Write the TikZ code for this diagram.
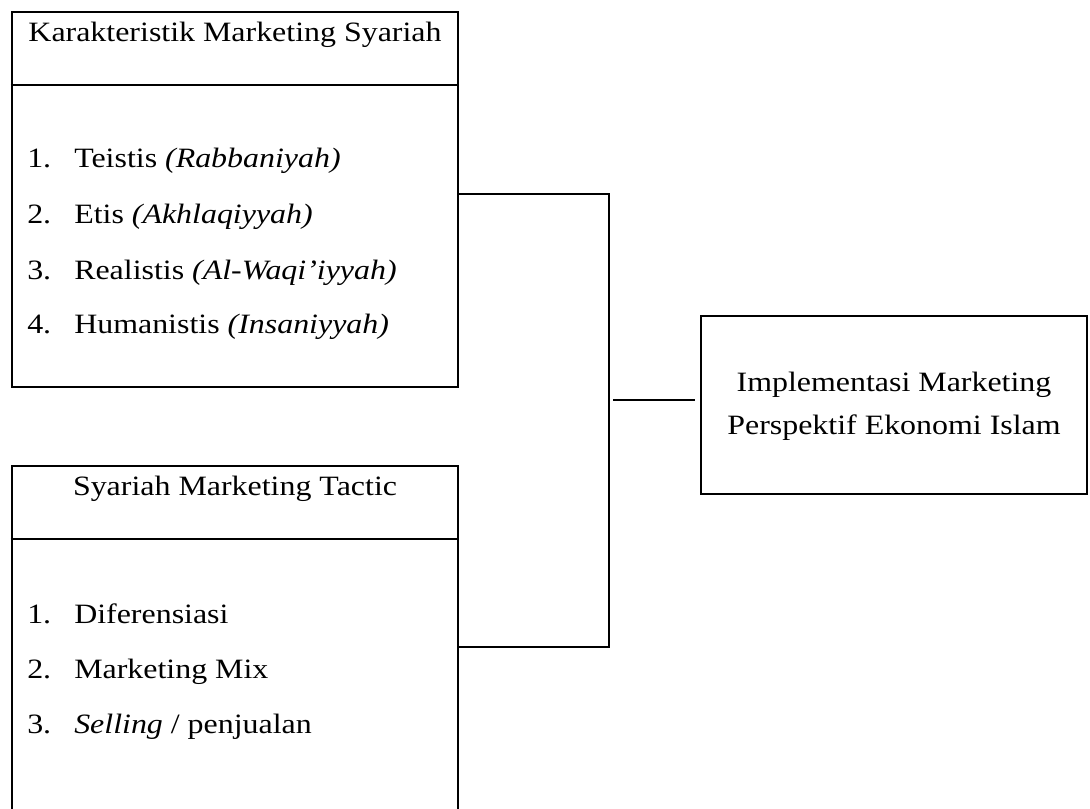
\documentclass[tikz,border=0pt]{standalone}
\usepackage{fontspec}
\setmainfont{Liberation Serif}[FakeStretch=1.14]
\begin{document}
\begin{tikzpicture}[x=0.75pt,y=-0.75pt,
  conn/.style={line width=1.9pt},
  box/.style={draw,line width=1.9pt,inner sep=0pt,rectangle},
  txt/.style={font=\fontsize{21}{25}\selectfont,inner sep=0pt},
  item/.style={txt,anchor=base west},
  ttl/.style={txt,anchor=base}]
\useasboundingbox (0,0) rectangle (1090,809);
% boxes
\node[box,minimum width=334.5pt,minimum height=281.25pt] (kbox) at (235,199.5) {};
\node[box,minimum width=334.5pt,minimum height=262.5pt] (sbox) at (235,641) {};
\node[box,minimum width=289.5pt,minimum height=133.5pt] (ibox) at (894,405) {};
% dividers
\draw[conn] (kbox.west |- 0,85) -- (kbox.east |- 0,85);
\draw[conn] (sbox.west |- 0,539) -- (sbox.east |- 0,539);
% top box texts
\node[ttl] (kt) at (235,42) {Karakteristik Marketing Syariah};
\node[item] (k1n) at (27,168) {1.};
\node[item] (k1) at (74,168) {Teistis \textit{(Rabbaniyah)}};
\node[item] (k2n) at (27,224) {2.};
\node[item] (k2) at (74,224) {Etis \textit{(Akhlaqiyyah)}};
\node[item] (k3n) at (27,280) {3.};
\node[item] (k3) at (74,280) {Realistis \textit{(Al-Waqi’iyyah)}};
\node[item] (k4n) at (27,334) {4.};
\node[item] (k4) at (74,334) {Humanistis \textit{(Insaniyyah)}};
% bottom box texts
\node[ttl] (st) at (235,495) {Syariah Marketing Tactic};
\node[item] (s1n) at (27,623) {1.};
\node[item] (s1) at (74,623) {Diferensiasi};
\node[item] (s2n) at (27,678) {2.};
\node[item] (s2) at (74,678) {Marketing Mix};
\node[item] (s3n) at (27,733) {3.};
\node[item] (s3) at (74,733) {\textit{Selling} / penjualan};
% right box text
\node[ttl] (i1) at (894,392) {Implementasi Marketing};
\node[ttl] (i2) at (894,435) {Perspektif Ekonomi Islam};
% connectors
\coordinate (kout) at (kbox.east |- 0,194);
\coordinate (sout) at (sbox.east |- 0,647);
\coordinate (jn) at (609,400);
\coordinate (m1) at (613,400);
\coordinate (m2) at (695,400);
\draw[conn] (kout) -| (jn) |- (sout);
\draw[conn] (m1) -- (m2);
\end{tikzpicture}
\end{document}
